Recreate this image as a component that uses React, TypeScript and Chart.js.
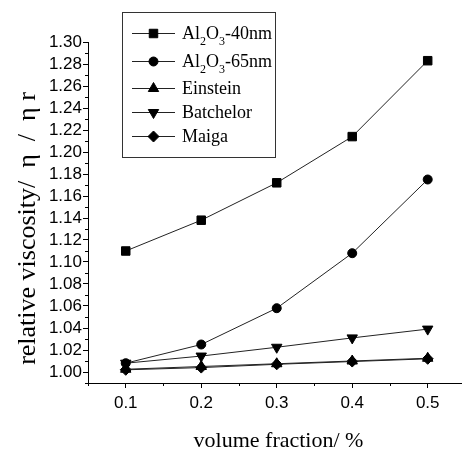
import React, { useEffect, useRef } from 'react';
import { Chart, registerables } from 'chart.js';
import { drawPoint } from 'chart.js/helpers';

Chart.register(...registerables);

const volumeFraction = [0.1, 0.2, 0.3, 0.4, 0.5];
const al2o3_40nm = [1.110, 1.138, 1.172, 1.214, 1.283];
const al2o3_65nm = [1.008, 1.025, 1.058, 1.108, 1.175];
const einstein = [1.0025, 1.005, 1.0075, 1.010, 1.0125];
const batchelor = [1.008, 1.0145, 1.0225, 1.031, 1.039];
const maiga = [1.002, 1.004, 1.007, 1.0095, 1.012];

const seriesLabels = ['Al₂O₃-40nm', 'Al₂O₃-65nm', 'Einstein', 'Batchelor', 'Maiga'];

const xTicks = [0.1, 0.2, 0.3, 0.4, 0.5];
const xMinorTicks = [0.05, 0.15, 0.25, 0.35, 0.45, 0.55];
const yTicks = [1.00, 1.02, 1.04, 1.06, 1.08, 1.10, 1.12, 1.14, 1.16, 1.18, 1.20, 1.22, 1.24, 1.26, 1.28, 1.30];
const yMinorTicks = [0.99, 1.01, 1.03, 1.05, 1.07, 1.09, 1.11, 1.13, 1.15, 1.17, 1.19, 1.21, 1.23, 1.25, 1.27, 1.29];

const xTitle = 'volume fraction/ %';
const yTitle = 'relative viscosity/  η  /  η r';

const markers = [
  { pointStyle: 'rect', radius: 6, rotation: 0 },
  { pointStyle: 'circle', radius: 4.5, rotation: 0 },
  { pointStyle: 'triangle', radius: 6, rotation: 0 },
  { pointStyle: 'triangle', radius: 6, rotation: 180 },
  { pointStyle: 'rectRot', radius: 5.5, rotation: 0 },
];

const INK = '#000000';
const LINE = '#222222';

function drawLabelWithSubs(ctx: CanvasRenderingContext2D, text: string, x: number, y: number) {
  const normal = '18px "Liberation Serif", "Times New Roman", serif';
  const small = '12px "Liberation Serif", "Times New Roman", serif';
  let cx = x;
  for (const ch of text) {
    if (ch === '₂' || ch === '₃') {
      ctx.font = small;
      const s = ch === '₂' ? '2' : '3';
      ctx.fillText(s, cx, y + 6);
      cx += ctx.measureText(s).width;
    } else {
      ctx.font = normal;
      ctx.fillText(ch, cx, y);
      cx += ctx.measureText(ch).width;
    }
  }
}

const decorPlugin = {
  id: 'decor',
  afterDraw(chart: any) {
    const { ctx, chartArea, scales } = chart;
    const xs = scales.x;
    const ys = scales.y;
    ctx.save();
    // minor ticks
    ctx.strokeStyle = INK;
    ctx.lineWidth = 1;
    ctx.beginPath();
    for (const v of xMinorTicks) {
      const px = Math.round(xs.getPixelForValue(v)) + 0.5;
      if (px > chartArea.right + 1) continue;
      ctx.moveTo(px, chartArea.bottom);
      ctx.lineTo(px, chartArea.bottom + 3);
    }
    for (const v of yMinorTicks) {
      const py = Math.round(ys.getPixelForValue(v)) + 0.5;
      ctx.moveTo(chartArea.left - 3, py);
      ctx.lineTo(chartArea.left, py);
    }
    ctx.stroke();

    // legend box
    const bx = 122.5, by = 12.5, bw = 153, bh = 145;
    ctx.strokeStyle = '#333333';
    ctx.strokeRect(bx, by, bw, bh);
    const rowsY = [33, 61, 88, 112, 136];
    chart.data.datasets.forEach((ds: any, i: number) => {
      const y = rowsY[i];
      ctx.strokeStyle = LINE;
      ctx.lineWidth = 1;
      ctx.beginPath();
      ctx.moveTo(132, y + 0.5);
      ctx.lineTo(175, y + 0.5);
      ctx.stroke();
      ctx.fillStyle = INK;
      ctx.strokeStyle = INK;
      const m = markers[i];
      drawPoint(ctx, { pointStyle: m.pointStyle, radius: m.radius, rotation: m.rotation, borderWidth: 1 } as any, 153.5, y + 0.5);
      ctx.fillStyle = INK;
      ctx.textBaseline = 'alphabetic';
      ctx.textAlign = 'left';
      drawLabelWithSubs(ctx, ds.label, 182, y + 6);
    });

    // axis titles
    ctx.fillStyle = INK;
    ctx.font = '22px "Liberation Serif", "Times New Roman", serif';
    ctx.textAlign = 'center';
    ctx.textBaseline = 'alphabetic';
    ctx.fillText(xTitle, (chartArea.left + chartArea.right) / 2 + 4, 447);

    ctx.save();
    ctx.translate(35, (chartArea.top + chartArea.bottom) / 2 + 16);
    ctx.rotate(-Math.PI / 2);
    ctx.font = '26px "Liberation Serif", "Times New Roman", serif';
    ctx.textAlign = 'center';
    ctx.textBaseline = 'alphabetic';
    ctx.fillText(yTitle, 0, 0);
    ctx.restore();

    ctx.restore();
  },
};

export default function App() {
  const canvasRef = useRef<HTMLCanvasElement | null>(null);

  useEffect(() => {
    const canvas = canvasRef.current;
    if (!canvas) return;
    const series = [al2o3_40nm, al2o3_65nm, einstein, batchelor, maiga];
    const datasets = series.map((vals, i) => ({
      label: seriesLabels[i],
      data: volumeFraction.map((x, j) => ({ x, y: vals[j] })),
      borderColor: LINE,
      borderWidth: 1,
      backgroundColor: INK,
      pointBackgroundColor: INK,
      pointBorderColor: INK,
      pointBorderWidth: 1,
      pointStyle: markers[i].pointStyle as any,
      pointRadius: markers[i].radius,
      pointRotation: markers[i].rotation,
      pointHoverRadius: markers[i].radius,
      tension: 0,
      fill: false,
      showLine: true,
    }));

    const tickFont = { family: '"Liberation Sans", Arial, sans-serif', size: 17 };

    const chart = new Chart(canvas, {
      type: 'scatter',
      data: { datasets },
      plugins: [decorPlugin],
      options: {
        animation: false,
        responsive: false,
        devicePixelRatio: 1,
        layout: { padding: { top: 42, left: 0, right: 0, bottom: 0 } },
        plugins: {
          legend: { display: false },
          tooltip: { enabled: false },
          title: { display: false },
        },
        scales: {
          x: {
            type: 'linear',
            position: 'bottom',
            min: 0.05,
            max: 0.5441,
            afterBuildTicks: (scale: any) => {
              scale.ticks = xTicks.map((v) => ({ value: v }));
            },
            afterFit: (scale: any) => {
              scale.height = 67;
            },
            grid: {
              display: true,
              drawOnChartArea: false,
              drawTicks: true,
              tickLength: 5,
              tickColor: INK,
              tickWidth: 1,
            },
            border: { display: true, color: INK, width: 1 },
            ticks: {
              color: INK,
              font: tickFont,
              padding: 5,
              maxRotation: 0,
              autoSkip: false,
              callback: (v: any) => Number(v).toFixed(1),
            },
          },
          y: {
            type: 'linear',
            position: 'left',
            min: 0.99,
            max: 1.30,
            afterBuildTicks: (scale: any) => {
              scale.ticks = yTicks.map((v) => ({ value: v }));
            },
            afterFit: (scale: any) => {
              scale.width = 88;
            },
            grid: {
              display: true,
              drawOnChartArea: false,
              drawTicks: true,
              tickLength: 5,
              tickColor: INK,
              tickWidth: 1,
            },
            border: { display: true, color: INK, width: 1 },
            ticks: {
              color: INK,
              font: tickFont,
              padding: 1,
              autoSkip: false,
              callback: (v: any) => Number(v).toFixed(2),
            },
          },
        },
      },
    });
    return () => chart.destroy();
  }, []);

  return (
    <div style={{ position: 'absolute', left: 0, top: 0, width: 468, height: 450, background: '#ffffff' }}>
      <canvas ref={canvasRef} width={468} height={450} style={{ width: 468, height: 450, display: 'block' }} />
    </div>
  );
}
